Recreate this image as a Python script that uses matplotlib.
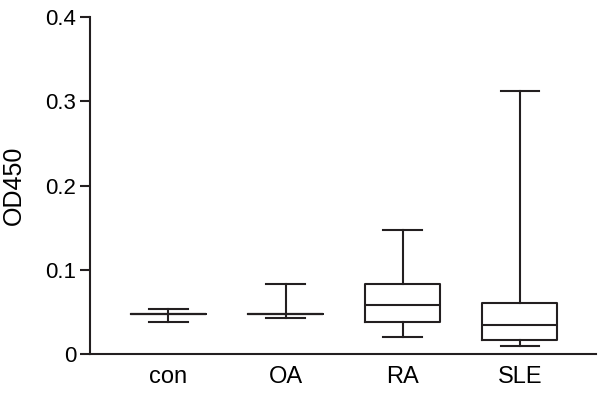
import matplotlib
matplotlib.use("Agg")
import matplotlib.pyplot as plt

plt.rcParams['font.family'] = ['Liberation Sans', 'DejaVu Sans']

groups = ['con', 'OA', 'RA', 'SLE']
whislo = [0.038, 0.043, 0.020, 0.010]
q1 = [0.047, 0.048, 0.038, 0.017]
med = [0.047, 0.048, 0.058, 0.035]
q3 = [0.047, 0.048, 0.083, 0.061]
whishi = [0.053, 0.083, 0.147, 0.312]

stats = []
for g, lo, a, m, b, hi in zip(groups, whislo, q1, med, q3, whishi):
    stats.append({'label': g, 'whislo': lo, 'q1': a, 'med': m, 'q3': b, 'whishi': hi, 'fliers': []})

fig = plt.figure(figsize=(6, 3.95), dpi=100)
ax = fig.add_axes([0.15, 1 - 354 / 395, 506 / 600, 337 / 395])

lw = 1.5
col = '#231f20'
ax.bxp(stats, positions=[1, 2, 3, 4], widths=0.64, showfliers=False,
       boxprops=dict(color=col, linewidth=lw),
       medianprops=dict(color=col, linewidth=lw),
       whiskerprops=dict(color=col, linewidth=lw),
       capprops=dict(color=col, linewidth=lw),
       capwidths=0.33)

ax.set_xlim(0.33, 4.65)
ax.set_ylim(0, 0.4)
ax.set_yticks([0, 0.1, 0.2, 0.3, 0.4])
ax.set_yticklabels(['0', '0.1', '0.2', '0.3', '0.4'])
ax.set_ylabel('OD450', fontsize=18, va='center')
ax.yaxis.set_label_coords(-(90 - 14) / 506, 0.5)

for s in ['top', 'right']:
    ax.spines[s].set_visible(False)
for s in ['left', 'bottom']:
    ax.spines[s].set_linewidth(lw)
    ax.spines[s].set_color(col)

ax.tick_params(axis='y', length=7, width=lw, color=col, labelsize=16, pad=3)
ax.tick_params(axis='x', length=0, labelsize=17, pad=8.5)

fig.savefig('out.png', dpi=100)
